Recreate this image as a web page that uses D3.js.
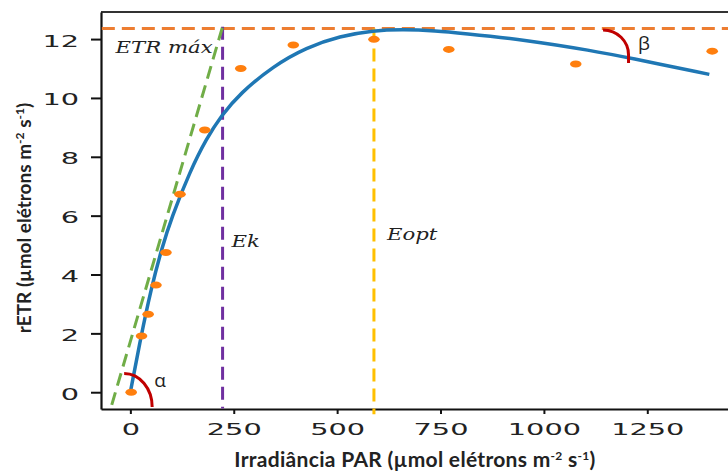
<!DOCTYPE html>
<html>
<head>
<meta charset="utf-8">
<script src="https://cdn.jsdelivr.net/npm/d3@7"></script>
<style>
  body { margin: 0; background: #fff; }
  svg { display: block; }
</style>
</head>
<body>
<div id="chart"></div>
<script>
var width = 728,
    height = 472;

// measured points (PAR, rETR)
var parValues = [2, 27, 43, 62, 86, 120, 180, 267, 394, 589, 770, 1077, 1407];
var etrValues = [0, 1.91, 2.65, 3.64, 4.75, 6.73, 8.91, 11.0, 11.8, 11.99, 11.65, 11.15, 11.59];

// fitted curve
var fitPar = [0, 25, 50, 75, 100, 144, 184, 220, 265, 345, 426, 507, 587, 660, 740, 800, 958, 1119, 1200, 1400];
var fitEtr = [0, 1.85, 3.5, 4.85, 5.95, 7.5, 8.62, 9.4, 10.15, 11.08, 11.72, 12.1, 12.29, 12.33, 12.28, 12.2, 11.97, 11.6, 11.38, 10.8];

// alpha tangent (initial slope)
var alphaPar = [-45, 223];
var alphaEtr = [-0.43, 12.42];

var etrMax = 12.36,
    ek = 223,
    eopt = 589;

var xTicks = [0, 250, 500, 750, 1000, 1250];
var yTicks = [0, 2, 4, 6, 8, 10, 12];

var margin = { top: 12, left: 101, bottom: 409, right: 730 };

var x = d3.scaleLinear().domain([-71, 1450]).range([margin.left, margin.right]);
var y = d3.scaleLinear().domain([-0.57, 12.92]).range([margin.bottom, margin.top]);

var svg = d3.select("#chart").append("svg")
    .attr("width", width)
    .attr("height", height);

var tickFont = "'DejaVu Sans', sans-serif",
    stretch = 1.8;

// top spine
svg.append("line")
    .attr("x1", margin.left).attr("x2", width)
    .attr("y1", margin.top).attr("y2", margin.top)
    .attr("stroke", "#333").attr("stroke-width", 2);

var gx = svg.append("g")
    .attr("transform", "translate(0," + margin.bottom + ")")
    .call(d3.axisBottom(x).tickValues(xTicks).tickFormat(d3.format("d"))
        .tickSize(5).tickSizeOuter(0));

var gy = svg.append("g")
    .attr("transform", "translate(" + margin.left + ",0)")
    .call(d3.axisLeft(y).tickValues(yTicks).tickFormat(d3.format("d"))
        .tickSize(10).tickSizeOuter(0));

[gx, gy].forEach(function(g) {
    g.select(".domain").attr("stroke", "#111").attr("stroke-width", 2.2);
    g.selectAll(".tick line").attr("stroke", "#111").attr("stroke-width", 2);
    g.selectAll(".tick text")
        .attr("font-family", tickFont)
        .attr("font-size", 16)
        .attr("fill", "#222")
        .attr("dy", null);
});

gx.selectAll(".tick text")
    .attr("y", 26)
    .attr("x", 0)
    .attr("transform", "scale(" + stretch + ",1)");

gy.selectAll(".tick text")
    .attr("y", 7)
    .attr("x", -22 / stretch)
    .attr("transform", "scale(" + stretch + ",1)");

// reference lines
var dash = "13,7";

svg.append("line")
    .attr("x1", x(-69)).attr("x2", width)
    .attr("y1", y(etrMax)).attr("y2", y(etrMax))
    .attr("stroke", "#ed7d31").attr("stroke-width", 3)
    .attr("stroke-dasharray", dash);

svg.append("line")
    .attr("x1", x(ek)).attr("x2", x(ek))
    .attr("y1", y(12.42)).attr("y2", y(-0.55))
    .attr("stroke", "#7030a0").attr("stroke-width", 3)
    .attr("stroke-dasharray", dash);

svg.append("line")
    .attr("x1", x(eopt)).attr("x2", x(eopt))
    .attr("y1", y(etrMax)).attr("y2", y(-0.75))
    .attr("stroke", "#ffc000").attr("stroke-width", 3)
    .attr("stroke-dasharray", dash);

svg.append("line")
    .attr("x1", x(alphaPar[0])).attr("x2", x(alphaPar[1]))
    .attr("y1", y(alphaEtr[0])).attr("y2", y(alphaEtr[1]))
    .attr("stroke", "#70ad47").attr("stroke-width", 3)
    .attr("stroke-dasharray", dash);

// fitted curve
var line = d3.line()
    .x(function(d, i) { return x(fitPar[i]); })
    .y(function(d, i) { return y(fitEtr[i]); })
    .curve(d3.curveBasis);

svg.append("path")
    .datum(fitPar)
    .attr("d", line)
    .attr("fill", "none")
    .attr("stroke", "#1f77b4")
    .attr("stroke-width", 3.5);

// observations
svg.selectAll("ellipse.obs")
    .data(parValues)
    .enter()
    .append("ellipse")
    .attr("class", "obs")
    .attr("cx", function(d) { return x(d); })
    .attr("cy", function(d, i) { return y(etrValues[i]); })
    .attr("rx", 5.8)
    .attr("ry", 3.5)
    .attr("fill", "#ff7f0e");

// angle marks
var red = "#c00000";
var ax = x(-15), ay = y(-0.5);
svg.append("path")
    .attr("d", "M" + ax + "," + (ay - 33.5) + " A28,33.5 0 0 1 " + (ax + 28) + "," + ay)
    .attr("fill", "none").attr("stroke", red).attr("stroke-width", 3);

var bx = x(1143), by = y(11.46);
svg.append("path")
    .attr("d", "M" + bx + "," + (by - 25) + " A25.5,25 0 0 1 " + (bx + 25.5) + "," + by + " L" + (bx + 25.5) + "," + (by + 8))
    .attr("fill", "none").attr("stroke", red).attr("stroke-width", 3);

svg.append("text")
    .attr("x", ax + 30).attr("y", ay - 20)
    .attr("font-family", "'Open Sans', sans-serif")
    .attr("font-size", 19)
    .attr("fill", "#222")
    .text("α");

svg.append("text")
    .attr("x", bx + 35).attr("y", by - 5)
    .attr("font-family", "'Open Sans', sans-serif")
    .attr("font-size", 19)
    .attr("fill", "#222")
    .text("β");

// italic labels
function mathLabel(px, py, txt) {
    svg.append("text")
        .attr("transform", "translate(" + px + "," + py + ") scale(1.25,1)")
        .attr("font-family", "'DejaVu Serif', serif")
        .attr("font-style", "italic")
        .attr("font-size", 17)
        .attr("fill", "#222")
        .text(txt);
}
mathLabel(x(-36), y(etrMax) + 25, "ETR máx");
mathLabel(x(ek) + 9, 247, "Ek");
mathLabel(x(eopt) + 13, 240, "Eopt");

// axis titles
function unitTitle(sel, lead) {
    sel.append("tspan").text(lead + " (µmol elétrons m");
    sel.append("tspan").attr("dy", -7).attr("font-size", 12).text("-2");
    sel.append("tspan").attr("dy", 7).text(" s");
    sel.append("tspan").attr("dy", -7).attr("font-size", 12).text("-1");
    sel.append("tspan").attr("dy", 7).text(")");
}

var title = svg.append("text")
    .attr("x", 415).attr("y", 467)
    .attr("text-anchor", "middle")
    .attr("font-family", "Lato, sans-serif")
    .attr("font-weight", "bold")
    .attr("font-size", 21)
    .attr("letter-spacing", 0.3)
    .attr("fill", "#222");
unitTitle(title, "Irradiância PAR");

var ytitle = svg.append("text")
    .attr("transform", "translate(31,218) rotate(-90)")
    .attr("text-anchor", "middle")
    .attr("font-family", "Lato, sans-serif")
    .attr("font-weight", "bold")
    .attr("font-size", 19)
    .attr("fill", "#222");
unitTitle(ytitle, "rETR");
</script>
</body>
</html>
